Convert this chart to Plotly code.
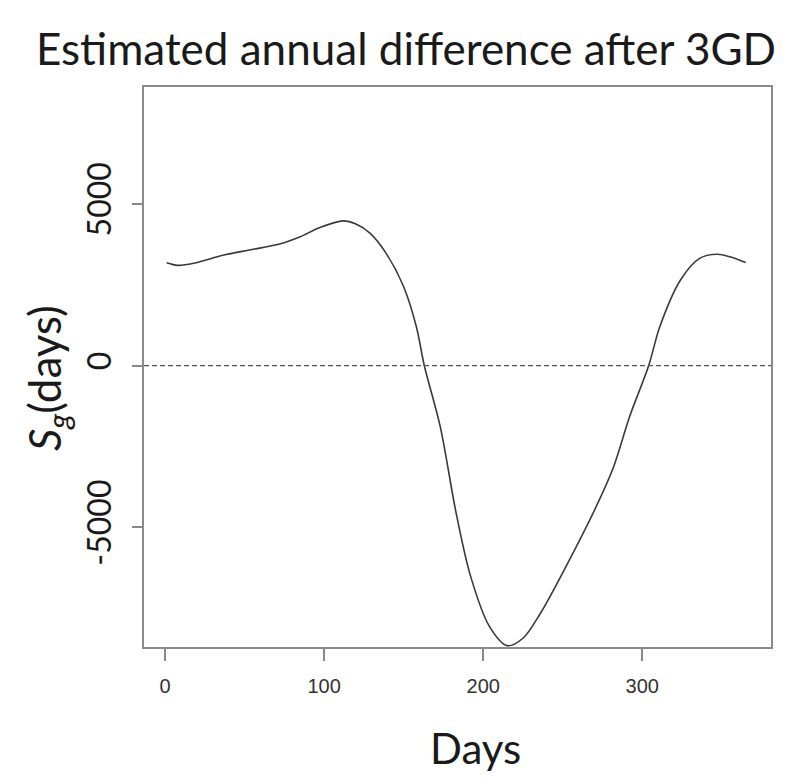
import plotly.graph_objects as go

# Data
days = [1, 8, 18, 37, 53, 72, 85, 97, 112, 120, 129, 139, 150, 158, 163, 173, 183, 192,
        204, 215, 225, 236, 252, 271, 282, 292, 304, 311, 324, 336, 347, 355, 365]
sg_values = [3185, 3104, 3166, 3423, 3577, 3763, 3989, 4267, 4480, 4380, 4094, 3475, 2443,
             1206, 0, -1886, -4560, -6500, -8070, -8658, -8429, -7656, -6215, -4360, -3123,
             -1577, 0, 1206, 2650, 3321, 3445, 3370, 3190]

x_tick_vals = [0, 100, 200, 300]
x_tick_text = ["0", "100", "200", "300"]
y_tick_vals = [-5000, 0, 5000]
y_tick_text = ["-5000", "0", "5000"]

title_text = "Estimated annual difference after 3GD"
x_title = "Days"
y_title = "<i>S</i><sub><i>g</i></sub>(days)"

# page body has an 8px margin; figure sized so the plot lands where the reference has it
W, H = 791, 766
ML, MT, PW, PH = 136, 79, 627, 560

fig = go.Figure()
fig.add_trace(go.Scatter(
    x=days, y=sg_values, mode="lines",
    line=dict(color="#3a3a3a", width=1.6, shape="spline", smoothing=0.9),
    showlegend=False, hoverinfo="skip",
))

fig.add_shape(type="line", xref="paper", x0=0, x1=1, yref="y", y0=0, y1=0,
              line=dict(color="#555555", width=1.2, dash="5px,3px"))

fig.update_layout(
    width=W, height=H,
    paper_bgcolor="white", plot_bgcolor="white",
    margin=dict(l=ML, r=W - ML - PW, t=MT, b=H - MT - PH),
    title=dict(text=title_text, x=(406 - 8) / W, xanchor="center", y=1 - (50 - 8) / H,
               yanchor="middle", yref="container",
               font=dict(family="Lato", size=44, color="#1a1a1a")),
    xaxis=dict(range=[-13.2, 380.9], tickmode="array", tickvals=x_tick_vals,
               ticktext=x_tick_text, ticks="outside", ticklen=12, tickwidth=1.5,
               tickcolor="#888888", showgrid=False, zeroline=False,
               showline=True, linecolor="#8a8a8a", linewidth=2, mirror=True,
               ticklabelstandoff=8,
               tickfont=dict(family="Liberation Sans", size=20, color="#333333")),
    yaxis=dict(range=[-8700, 8620], tickmode="array", tickvals=y_tick_vals,
               ticktext=y_tick_text, ticks="outside", ticklen=10, tickwidth=1.5,
               tickcolor="#888888", showgrid=False, zeroline=False,
               showline=True, linecolor="#8a8a8a", linewidth=2, mirror=True,
               tickangle=-90, ticklabelstandoff=8,
               tickfont=dict(family="Lato", size=32, color="#1a1a1a")),
    annotations=[
        dict(text=x_title, xref="paper", yref="paper", x=(476 - 144) / PW,
             y=-(748 - 647) / PH, xanchor="center", yanchor="middle",
             showarrow=False, font=dict(family="Lato", size=42, color="#1a1a1a")),
        dict(text=y_title, xref="paper", yref="paper", x=-(144 - 48) / PW,
             y=(647 - 378) / PH, xanchor="center", yanchor="middle",
             textangle=-90, showarrow=False,
             font=dict(family="Lato", size=44, color="#1a1a1a")),
    ],
)

fig.write_html("out.html")
